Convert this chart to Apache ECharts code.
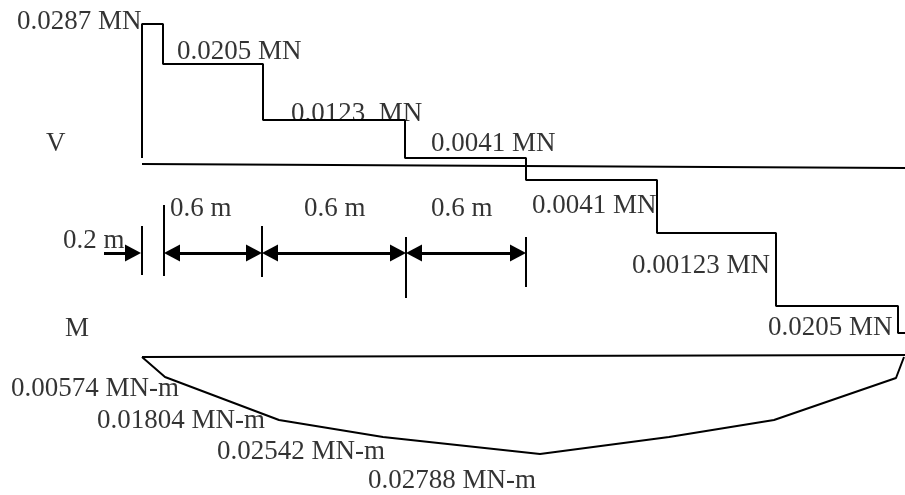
<!DOCTYPE html>
<html lang="en">
<head>
  <meta charset="UTF-8">
  <title>Shear and moment diagram</title>
  <script src="https://cdn.jsdelivr.net/npm/echarts@6/dist/echarts.min.js"></script>
  <style>
    html, body { margin: 0; padding: 0; background: #fff; }
  </style>
</head>
<body>
  <div id="main" style="width: 905px; height: 495px;"></div>
  <script>
    // schematic diagram, drawn in sketch units (x: 0-905, y: 0-495 downwards)
    // shear diagram: step stations and step levels
    var vStations = [142, 163, 263, 405, 526, 657, 776, 898, 905];
    var vLevels = [24, 64, 120, 158, 180, 233, 306, 333];
    var vStart = 158;
    var vBase = [[142, 164], [905, 168]];

    // moment diagram: break points and depths
    var mStations = [142, 165, 279, 383, 540, 669, 774, 896, 904];
    var mDepths = [357, 377, 420, 437, 454, 437, 420, 378, 357];
    var mBase = [[142, 357], [905, 355]];

    // labels
    var labelTexts = ['0.0287 MN', '0.0205 MN', '0.0123  MN', '0.0041 MN', '0.0041 MN', '0.00123 MN', '0.0205 MN',
      'V', 'M', '0.2 m', '0.6 m', '0.6 m', '0.6 m',
      '0.00574 MN-m', '0.01804 MN-m', '0.02542 MN-m', '0.02788 MN-m'];
    var labelX = [17, 177, 291, 431, 532, 632, 768, 46, 65, 63, 170, 304, 431, 11, 97, 217, 368];
    var labelY = [22, 52, 114, 144, 206, 266, 328, 144, 329, 241, 209, 209, 209, 389, 421, 452, 481];

    // dimension lines
    var dimY = 253;
    var dimStops = [164, 262, 406, 526];
    var leadArrow = [104, 141];
    var tickX = [142, 164, 262, 406, 526];
    var tickTop = [226, 205, 226, 237, 237];
    var tickBottom = [275, 276, 277, 298, 287];
    var headLen = 16;

    // build step path for shear
    var vPath = [[vStations[0], vStart]];
    for (var i = 0; i < vLevels.length; i++) {
      vPath.push([vStations[i], vLevels[i]]);
      vPath.push([vStations[i + 1], vLevels[i]]);
    }
    var mPath = mStations.map(function (x, i) { return [x, mDepths[i]]; });

    var labelData = labelTexts.map(function (t, i) {
      return { name: t, value: [labelX[i], labelY[i]] };
    });

    // arrow heads are centred on the line end, so pull ends in by half a head
    var h = headLen / 2;
    var dimLines = [];
    for (var j = 0; j < dimStops.length - 1; j++) {
      dimLines.push([{ coord: [dimStops[j] + h, dimY] }, { coord: [dimStops[j + 1] - h, dimY] }]);
    }
    dimLines.push([
      { coord: [leadArrow[0], dimY], symbol: 'none' },
      { coord: [leadArrow[1] - h, dimY], symbol: 'triangle' }
    ]);
    var ticks = tickX.map(function (x, i) {
      return { coords: [[x, tickTop[i]], [x, tickBottom[i]]] };
    });

    var lineStyle = { color: '#000', width: 2, opacity: 1 };
    var myChart = echarts.init(document.getElementById('main'));
    var option = {
      animation: false,
      backgroundColor: '#fff',
      grid: { left: 0, right: 0, top: 0, bottom: 0 },
      xAxis: { type: 'value', min: 0, max: 905, show: false },
      yAxis: { type: 'value', min: 0, max: 495, inverse: true, show: false },
      series: [
        { type: 'line', data: vPath, symbol: 'none', lineStyle: lineStyle, z: 3 },
        { type: 'line', data: vBase, symbol: 'none', lineStyle: lineStyle },
        { type: 'line', data: mPath, symbol: 'none', lineStyle: lineStyle },
        { type: 'line', data: mBase, symbol: 'none', lineStyle: lineStyle },
        {
          type: 'lines', coordinateSystem: 'cartesian2d', data: ticks,
          lineStyle: lineStyle, silent: true
        },
        {
          type: 'line', data: [], symbol: 'none',
          markLine: {
            silent: true,
            symbol: ['triangle', 'triangle'],
            symbolSize: [17, headLen],
            label: { show: false },
            itemStyle: { color: '#000' },
            lineStyle: { color: '#000', width: 3, type: 'solid', opacity: 1 },
            data: dimLines
          }
        },
        {
          type: 'scatter', data: labelData, symbolSize: 0, z: 5,
          label: {
            show: true, position: 'inside', formatter: '{b}',
            align: 'left', verticalAlign: 'middle',
            color: '#000', textBorderWidth: 0,
            fontFamily: 'Liberation Serif', fontSize: 27
          }
        }
      ]
    };
    myChart.setOption(option);
  </script>
</body>
</html>
